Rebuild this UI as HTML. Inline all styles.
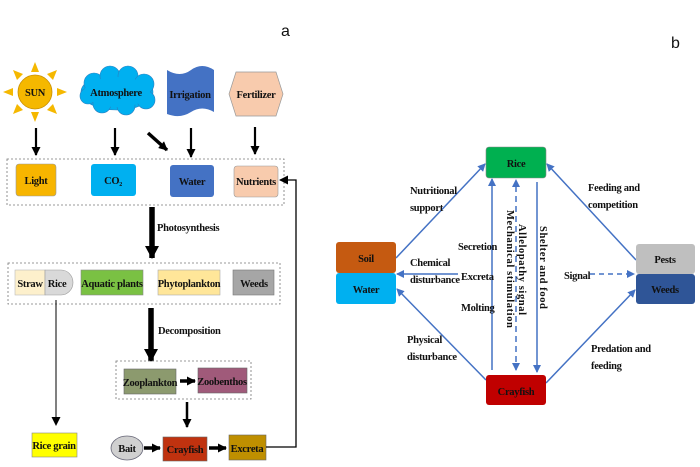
<!DOCTYPE html>
<html><head><meta charset="utf-8"><style>
html,body{margin:0;padding:0;background:#fff;}
svg{display:block;}
text{font-family:"Liberation Serif",serif;font-weight:bold;font-size:10.5px;letter-spacing:-0.3px;fill:#111;}
</style></head><body>
<svg width="700" height="467" viewBox="0 0 700 467" xmlns="http://www.w3.org/2000/svg">
<defs>
<marker id="ah" markerWidth="9" markerHeight="9" refX="8" refY="4.5" orient="auto" markerUnits="userSpaceOnUse"><path d="M0,0 L9,4.5 L0,9 z" fill="#000"/></marker>
<marker id="ab" markerWidth="8" markerHeight="8" refX="7" refY="4" orient="auto" markerUnits="userSpaceOnUse"><path d="M0,0 L8,4 L0,8 z" fill="#4472c4"/></marker>
<marker id="big" markerWidth="14" markerHeight="14" refX="12" refY="7" orient="auto" markerUnits="userSpaceOnUse"><path d="M0,0 L13,7 L0,14 z" fill="#000"/></marker>
</defs>
<text x="281" y="36" style="font-family:'Liberation Sans',sans-serif;font-size:16px;font-weight:normal;letter-spacing:0">a</text>
<text x="671" y="48" style="font-family:'Liberation Sans',sans-serif;font-size:16px;font-weight:normal;letter-spacing:0">b</text>

<!-- SUN -->
<g fill="#f5b800">
<polygon points="35,62 31,72 39,72"/><polygon points="35,122 31,112 39,112"/>
<polygon points="3,92 13,88 13,96"/><polygon points="67,92 57,88 57,96"/>
<polygon points="13,70 23,74 17,80"/><polygon points="57,70 47,74 53,80"/>
<polygon points="13,114 17,104 23,110"/><polygon points="57,114 53,104 47,110"/>
<circle cx="35" cy="92" r="17" stroke="#c98f00" stroke-width="0.8"/>
</g>
<text x="35" y="96" text-anchor="middle">SUN</text>
<!-- cloud -->
<g fill="#00b0f0" stroke="#2a7fc0" stroke-width="0.6">
<ellipse cx="117" cy="92" rx="36" ry="18"/>
<circle cx="94" cy="83" r="10"/><circle cx="110" cy="76" r="10"/><circle cx="128" cy="76" r="10"/><circle cx="144" cy="84" r="10"/><circle cx="146" cy="100" r="9"/><circle cx="126" cy="106" r="9"/><circle cx="102" cy="104" r="9"/><circle cx="88" cy="96" r="8"/>
</g>
<ellipse cx="117" cy="92" rx="33" ry="15" fill="#00b0f0"/>
<text x="116" y="96" text-anchor="middle">Atmosphere</text>
<!-- irrigation flag -->
<path d="M167,70 Q180,78 191,70 T214,70 L214,112 Q202,105 191,112 T167,114 Z" fill="#4472c4"/>
<text x="190" y="98" text-anchor="middle">Irrigation</text>
<!-- fertilizer -->
<polygon points="236,72 276,72 283,94 276,116 236,116 229,94" fill="#f8cbad" stroke="#999" stroke-width="0.7"/>
<text x="256" y="98" text-anchor="middle">Fertilizer</text>

<!-- down arrows -->
<g stroke="#000" stroke-width="2.2">
<line x1="36" y1="128" x2="36" y2="155" marker-end="url(#ah)"/>
<line x1="115" y1="128" x2="115" y2="155" marker-end="url(#ah)"/>
<line x1="191" y1="128" x2="191" y2="157" marker-end="url(#ah)"/>
<line x1="255" y1="127" x2="255" y2="154" marker-end="url(#ah)"/>
<line x1="148" y1="133" x2="167" y2="150" stroke-width="3.5" marker-end="url(#ah)"/>
</g>
<rect x="7" y="159" width="277" height="46" fill="none" stroke="#777" stroke-dasharray="2,2" stroke-width="0.8"/>
<rect x="16" y="164" width="40" height="32" rx="3" fill="#f7b500" stroke="#999" stroke-width="0.6"/>
<text x="36" y="184" text-anchor="middle">Light</text>
<rect x="91" y="164" width="45" height="32" rx="3" fill="#00b0f0"/>
<text x="113" y="184" text-anchor="middle">CO<tspan font-size="6" dy="2">2</tspan></text>
<rect x="170" y="165" width="44" height="32" rx="3" fill="#4472c4"/>
<text x="192" y="185" text-anchor="middle">Water</text>
<rect x="234" y="166" width="44" height="31" rx="3" fill="#f8cbad" stroke="#999" stroke-width="0.6"/>
<text x="256" y="185" text-anchor="middle">Nutrients</text>

<!-- photosynthesis -->
<line x1="152" y1="207" x2="152" y2="258" stroke="#000" stroke-width="5.5" marker-end="url(#big)"/>
<text x="157" y="231">Photosynthesis</text>

<rect x="8" y="263" width="272" height="41" fill="none" stroke="#777" stroke-dasharray="2,2" stroke-width="0.8"/>
<rect x="15" y="270" width="30" height="25" fill="#fdf0cc" stroke="#bbb" stroke-width="0.6"/>
<path d="M45,270 L61,270 A12,12.5 0 0 1 61,295 L45,295 Z" fill="#d9d9d9" stroke="#999" stroke-width="0.6"/>
<text x="30" y="287" text-anchor="middle">Straw</text>
<text x="57" y="287" text-anchor="middle">Rice</text>
<rect x="81" y="270" width="62" height="25" fill="#7ac143" stroke="#888" stroke-width="0.6"/>
<text x="112" y="287" text-anchor="middle">Aquatic plants</text>
<rect x="158" y="270" width="62" height="25" fill="#ffe699" stroke="#aaa" stroke-width="0.6"/>
<text x="189" y="287" text-anchor="middle">Phytoplankton</text>
<rect x="233" y="270" width="41" height="25" fill="#a6a6a6" stroke="#777" stroke-width="0.6"/>
<text x="254" y="287" text-anchor="middle">Weeds</text>

<line x1="56" y1="300" x2="56" y2="425" stroke="#000" stroke-width="1" marker-end="url(#ah)"/>
<rect x="32" y="433" width="45" height="24" fill="#ffff00" stroke="#888" stroke-width="0.6"/>
<text x="54" y="449" text-anchor="middle">Rice grain</text>

<line x1="151" y1="308" x2="151" y2="361" stroke="#000" stroke-width="5.5" marker-end="url(#big)"/>
<text x="158" y="334">Decomposition</text>

<rect x="116" y="361" width="135" height="38" fill="none" stroke="#777" stroke-dasharray="2,2" stroke-width="0.8"/>
<rect x="124" y="369" width="52" height="25" fill="#8c9a6e" stroke="#666" stroke-width="0.6"/>
<text x="150" y="386" text-anchor="middle">Zooplankton</text>
<line x1="180" y1="381" x2="195" y2="381" stroke="#000" stroke-width="3.5" marker-end="url(#ah)"/>
<rect x="198" y="368" width="49" height="25" fill="#a05a7a" stroke="#666" stroke-width="0.6"/>
<text x="222" y="385" text-anchor="middle">Zoobenthos</text>
<line x1="187" y1="402" x2="187" y2="427" stroke="#000" stroke-width="2.5" marker-end="url(#ah)"/>

<ellipse cx="127" cy="448" rx="16" ry="12" fill="#d0d0d0" stroke="#667" stroke-width="0.8"/>
<text x="127" y="452" text-anchor="middle">Bait</text>
<line x1="144" y1="448" x2="160" y2="448" stroke="#000" stroke-width="3.5" marker-end="url(#ah)"/>
<rect x="163" y="437" width="44" height="24" fill="#c0320f" stroke="#666" stroke-width="0.6"/>
<text x="185" y="453" text-anchor="middle">Crayfish</text>
<line x1="209" y1="448" x2="226" y2="448" stroke="#000" stroke-width="3.5" marker-end="url(#ah)"/>
<rect x="229" y="435" width="37" height="25" fill="#bf8f00" stroke="#666" stroke-width="0.6"/>
<text x="247" y="452" text-anchor="middle">Excreta</text>
<polyline points="266,447 296,447 296,180 280,180" fill="none" stroke="#000" stroke-width="1.3" marker-end="url(#ah)"/>

<!-- panel b -->
<g stroke="#4472c4" stroke-width="1.5" fill="none">
<line x1="396" y1="258" x2="485" y2="164" marker-end="url(#ab)"/>
<line x1="636" y1="260" x2="547" y2="164" marker-end="url(#ab)"/>
<line x1="486" y1="380" x2="397" y2="289" marker-end="url(#ab)"/>
<line x1="546" y1="383" x2="635" y2="290" marker-end="url(#ab)"/>
<line x1="458" y1="274" x2="397" y2="274" marker-end="url(#ab)"/>
<line x1="590" y1="274" x2="634" y2="274" stroke-dasharray="5,4" marker-end="url(#ab)"/>
<line x1="492" y1="370" x2="492" y2="179" marker-end="url(#ab)"/>
<line x1="516" y1="186" x2="516" y2="370" stroke-dasharray="6,4" marker-end="url(#ab)"/>
<line x1="516" y1="368" x2="516" y2="180" stroke="none" marker-end="url(#ab)"/>
<line x1="537" y1="182" x2="537" y2="372" marker-end="url(#ab)"/>
</g>
<rect x="486" y="147" width="60" height="31" rx="3" fill="#00b050" stroke="#888" stroke-width="0.6"/>
<text x="516" y="167" text-anchor="middle">Rice</text>
<rect x="336" y="242" width="60" height="31" rx="3" fill="#c55a11"/>
<text x="366" y="262" text-anchor="middle">Soil</text>
<rect x="336" y="273" width="60" height="31" rx="3" fill="#00b0f0"/>
<text x="366" y="293" text-anchor="middle">Water</text>
<rect x="636" y="244" width="59" height="30" rx="3" fill="#bfbfbf"/>
<text x="665" y="263" text-anchor="middle">Pests</text>
<rect x="636" y="274" width="59" height="30" rx="3" fill="#2f5597"/>
<text x="665" y="293" text-anchor="middle">Weeds</text>
<rect x="486" y="375" width="60" height="30" rx="3" fill="#c00000"/>
<text x="516" y="395" text-anchor="middle">Crayfish</text>

<text x="410" y="194">Nutritional</text><text x="410" y="211">support</text>
<text x="588" y="191">Feeding and</text><text x="588" y="208">competition</text>
<text x="458" y="250">Secretion</text>
<text x="410" y="266">Chemical</text><text x="410" y="283">disturbance</text>
<text x="461" y="280">Excreta</text>
<text x="461" y="311">Molting</text>
<text x="564" y="279">Signal</text>
<text x="407" y="343">Physical</text><text x="407" y="360">disturbance</text>
<text x="591" y="352">Predation and</text><text x="591" y="369">feeding</text>
<text transform="translate(519,224) rotate(90)" style="letter-spacing:0.6px">Allelopathy signal</text>
<text transform="translate(507,210) rotate(90)" style="letter-spacing:0.6px">Mechanical stimulation</text>
<text transform="translate(540,226) rotate(90)" style="letter-spacing:0.6px">Shelter and food</text>
</svg>
</body></html>
